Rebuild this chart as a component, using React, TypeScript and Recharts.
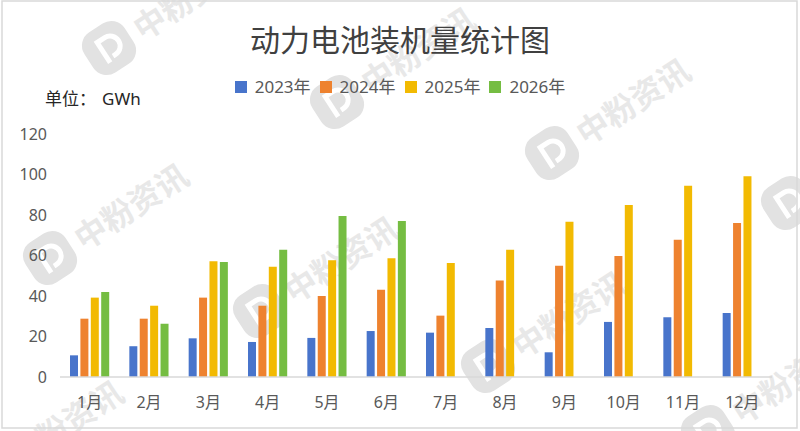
import React from 'react';
import { BarChart, Bar, XAxis, YAxis, Legend } from 'recharts';

const months = ['1月', '2月', '3月', '4月', '5月', '6月', '7月', '8月', '9月', '10月', '11月', '12月'];
const v2023 = [10.7, 15.2, 19.1, 17.3, 19.3, 22.7, 21.9, 24.2, 12.2, 27.2, 29.5, 31.6];
const v2024 = [28.8, 28.8, 39.2, 35.2, 40.0, 43.1, 30.3, 47.6, 55.0, 59.8, 67.8, 76.0];
const v2025 = [39.2, 35.2, 57.1, 54.5, 57.6, 58.6, 56.3, 62.9, 76.7, 84.9, 94.5, 99.1];
const v2026 = [42.0, 26.3, 56.8, 62.9, 79.5, 77.0, null, null, null, null, null, null];
const yTicks = [0, 20, 40, 60, 80, 100, 120];

const seriesNames = ['2023年', '2024年', '2025年', '2026年'];
const seriesColors = ['#4874CB', '#EE822F', '#F2BA02', '#75BD42'];
const seriesValues = [v2023, v2024, v2025, v2026];

const watermarkCenters: [number, number][] = [
  [109, 48], [337, 102], [552, 153], [788, 203],
  [50, 258], [260, 311], [488, 366], [708, 432],
  [-15, 475],
];

const data = months.map((m, i) => {
  const row: Record<string, any> = { month: m };
  seriesNames.forEach((s, k) => {
    row[s] = seriesValues[k][i];
  });
  return row;
});

const FONT = "'Noto Sans', 'Noto Sans CJK SC', sans-serif";

function Watermark({ cx, cy }: { cx: number; cy: number }) {
  return (
    <g transform={`translate(${cx},${cy}) rotate(-33)`}>
      <rect x={-24} y={-24} width={48} height={48} rx={16} fill="#e2e2e2" />
      <path d="M -7 13 V -11 H 2 A 10 10 0 0 1 2 9 H -1" fill="none" stroke="#ffffff" strokeWidth={5} />
      <text x={32} y={13} fontSize={32} fontWeight="bold" fill="#e8e8e8" fontFamily="'Noto Sans CJK SC', sans-serif">
        中粉资讯
      </text>
    </g>
  );
}

function LegendContent(props: any) {
  const payload = props.payload || [];
  return (
    <div style={{ display: 'flex', justifyContent: 'center', alignItems: 'center', width: 800 }}>
      {payload.map((p: any, i: number) => (
        <div key={i} style={{ display: 'flex', alignItems: 'center', marginRight: i < payload.length - 1 ? 9 : 0 }}>
          <span style={{ display: 'inline-block', width: 12, height: 12, background: p.color, marginRight: 8 }} />
          <span style={{ fontSize: 17, color: '#595959', fontFamily: FONT, lineHeight: '20px' }}>{p.value}</span>
        </div>
      ))}
    </div>
  );
}

export default function App() {
  return (
    <div style={{ position: 'fixed', left: 0, top: 0, width: 800, height: 431, background: '#ffffff', overflow: 'hidden' }}>
      <svg width={800} height={431} style={{ position: 'absolute', left: 0, top: 0 }}>
        {watermarkCenters.map(([x, y], i) => (
          <Watermark key={i} cx={x} cy={y} />
        ))}
        <rect x={2} y={1} width={795} height={427} fill="none" stroke="#d9d9d9" strokeWidth={1.5} />
      </svg>
      <div
        style={{
          position: 'absolute', left: 0, top: 18, width: 800, textAlign: 'center',
          fontSize: 30, color: '#404040', fontFamily: "'Noto Sans CJK SC', sans-serif", lineHeight: '40px',
        }}
      >
        动力电池装机量统计图
      </div>
      <div
        style={{
          position: 'absolute', left: 45, top: 87, fontSize: 17, color: '#262626',
          fontFamily: FONT, lineHeight: '24px', whiteSpace: 'nowrap',
        }}
      >
        单位：<span style={{ marginLeft: 6 }}>GWh</span>
      </div>
      <div style={{ position: 'absolute', left: 0, top: 0 }}>
        <BarChart
          width={800}
          height={431}
          data={data}
          margin={{ top: 134, right: 28, bottom: 24, left: 0 }}
          barSize={8}
          barGap={2.4}
        >
          <XAxis
            dataKey="month"
            height={30}
            interval={0}
            axisLine={{ stroke: '#d9d9d9', strokeWidth: 1.5 }}
            tickLine={false}
            tickSize={0}
            tickMargin={20}
            tick={{ fontSize: 16, fill: '#595959', fontFamily: FONT }}
          />
          <YAxis
            width={60}
            domain={[0, 120]}
            ticks={yTicks}
            axisLine={false}
            tickLine={false}
            tickSize={0}
            tickMargin={13}
            tick={{ fontSize: 16, fill: '#595959', fontFamily: FONT }}
          />
          <Legend
            layout="horizontal"
            verticalAlign="middle"
            align="center"
            wrapperStyle={{ position: 'absolute', top: 77, left: 0, width: 800 }}
            content={LegendContent}
          />
          {seriesNames.map((s, k) => (
            <Bar key={s} dataKey={s} name={s} fill={seriesColors[k]} isAnimationActive={false} />
          ))}
        </BarChart>
      </div>
    </div>
  );
}
